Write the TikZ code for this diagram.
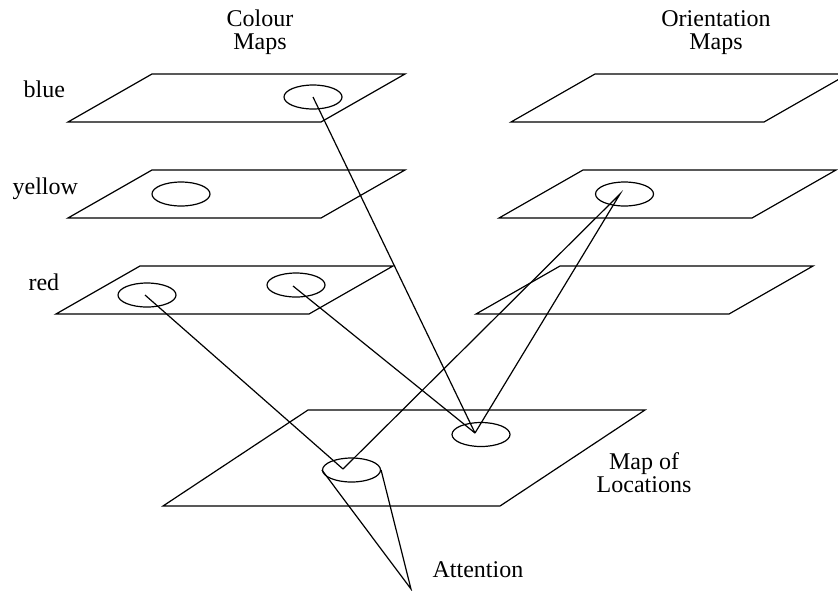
\documentclass[tikz,border=0pt]{standalone}
\usepackage{fontspec}
\setmainfont{Liberation Serif}
\usetikzlibrary{shapes.geometric}
\tikzset{
  spot/.style={draw, ellipse, minimum width=29pt, minimum height=12pt, inner sep=0pt},
  lbl/.style={inner sep=0pt, font=\fontsize{12}{11.5}\selectfont}
}
\begin{document}
\begin{tikzpicture}[x=5pt,y=-5pt,line width=0.6pt]
  \useasboundingbox (0,0) rectangle (83.8,59.0);
  % Colour maps (left) and orientation maps (right)
  \foreach \x/\y in {15.2/7.4,15.2/17.0,14.0/26.6,59.5/7.4,58.3/17.0,56.0/26.6}{
    \draw (\x,\y) -- ++(25.3,0) -- ++(-8.4,4.8) -- ++(-25.3,0) -- cycle;
  }
  % Map of locations
  \draw (30.8,41.0) -- (64.5,41.0) -- (50.0,50.6) -- (16.3,50.6) -- cycle;

  % Spots on the maps
  \node[spot] (bs) at (31.3,9.7) {};
  \node[spot] (ys) at (18.1,19.4) {};
  \node[spot] (ra) at (14.7,29.5) {};
  \node[spot] (rb) at (29.6,28.5) {};
  \node[spot] (os) at (62.45,19.4) {};
  \node[spot] (ml) at (35.15,47.0) {};
  \node[spot] (mr) at (48.1,43.45) {};
  \coordinate (bsc) at (31.3,9.7);
  \coordinate (rac) at (14.5,29.5);
  \coordinate (rbc) at (29.3,28.6);
  \coordinate (osc) at (62.0,19.4);
  \coordinate (mlc) at (34.3,46.9);
  \coordinate (mrc) at (47.5,43.3);
  \coordinate (tip) at (41.1,58.9);

  % Labels
  \node[lbl,align=center] (colour) at (26.0,3.25) {Colour\\Maps};
  \node[lbl,align=center] (orient) at (71.6,3.25) {Orientation\\Maps};
  \node[lbl,anchor=base west] (blue) at (2.3,9.7) {blue};
  \node[lbl,anchor=base west] (yellow) at (1.2,19.45) {yellow};
  \node[lbl,anchor=base west] (red) at (2.8,29.0) {red};
  \node[lbl,align=center] (maploc) at (64.4,47.3) {Map of\\Locations};
  \node[lbl,anchor=base west] (attn) at (43.2,57.7) {Attention};

  % Links from the feature maps down to the map of locations
  \draw (bsc) -- (mrc);
  \draw (rbc) -- (mrc);
  \draw (rac) -- (mlc);
  \draw (mlc) -- (osc) -- (mrc);
  % Attention cone
  \draw (ml.west) -- (tip) -- (ml.east);
\end{tikzpicture}
\end{document}
